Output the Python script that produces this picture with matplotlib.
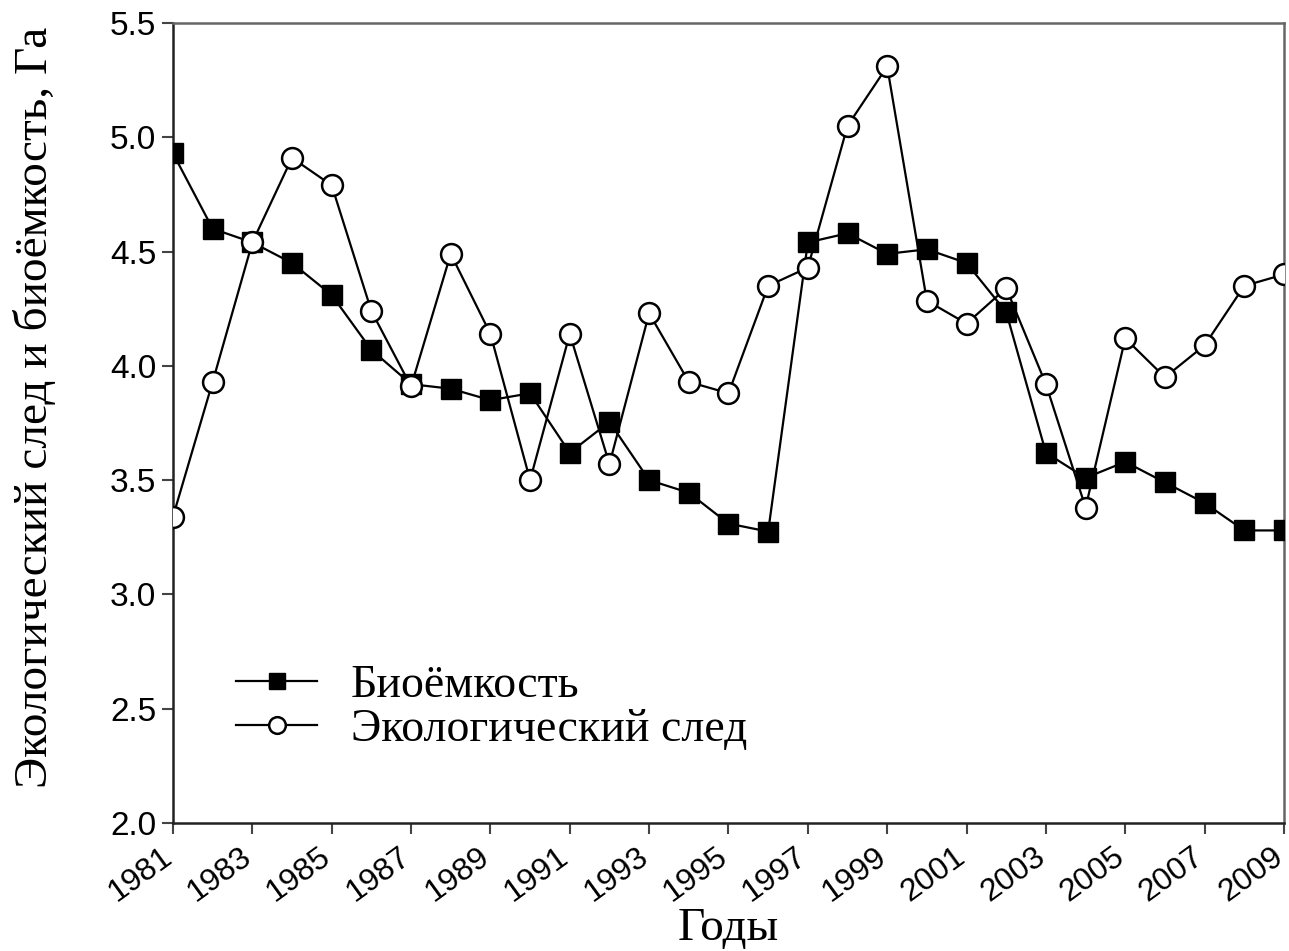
import matplotlib
matplotlib.use("Agg")
import matplotlib.pyplot as plt
import matplotlib.transforms as mtransforms

years = list(range(1981, 2010))
biocapacity = [4.93, 4.60, 4.54, 4.45, 4.31, 4.07, 3.92, 3.90, 3.85, 3.88,
               3.62, 3.755, 3.50, 3.445, 3.31, 3.275, 4.54, 4.58, 4.49, 4.51,
               4.45, 4.235, 3.62, 3.51, 3.58, 3.49, 3.40, 3.28, 3.28]
footprint = [3.34, 3.93, 4.54, 4.91, 4.79, 4.24, 3.91, 4.49, 4.14, 3.50,
             4.14, 3.57, 4.23, 3.93, 3.88, 4.35, 4.43, 5.05, 5.31, 4.285,
             4.185, 4.34, 3.92, 3.38, 4.12, 3.95, 4.09, 4.35, 4.40]
xticks = list(range(1981, 2010, 2))
yticks = [2.0, 2.5, 3.0, 3.5, 4.0, 4.5, 5.0, 5.5]

fig = plt.figure(figsize=(12.89, 9.51), dpi=100)
ax = fig.add_axes([0.1342, 0.1346, 0.8619, 0.8412])

ax.plot(years, biocapacity, color='black', lw=1.6, marker='s', ms=14,
        mfc='black', mec='black', label='Биоёмкость', zorder=3)
ax.plot(years, footprint, color='black', lw=1.6, marker='o', ms=15,
        mfc='white', mec='black', mew=1.8, label='Экологический след', zorder=4)

ax.set_xlim(1981, 2009)
ax.set_ylim(2.0, 5.5)
ax.set_xticks(xticks)
ax.set_yticks(yticks)
ax.set_yticklabels([f"{v:.1f}" for v in yticks], fontfamily='Liberation Sans', fontsize=24)
ax.set_xticklabels([str(y) for y in xticks], fontfamily='Liberation Sans', fontsize=23,
                   rotation=36, ha='right', va='center', rotation_mode='anchor')
ax.tick_params(axis='both', direction='out', length=8, width=1.5, color='#444444', pad=4)
ax.tick_params(axis='x', pad=14)

offset = mtransforms.ScaledTranslation(-4 / 100, 0, fig.dpi_scale_trans)
for lab in ax.get_xticklabels():
    lab.set_transform(lab.get_transform() + offset)

for s in ['left', 'bottom']:
    ax.spines[s].set_color('#222222')
    ax.spines[s].set_linewidth(1.8)
for s in ['top', 'right']:
    ax.spines[s].set_color('#666666')
    ax.spines[s].set_linewidth(1.8)

ax.set_xlabel('Годы', fontfamily='Liberation Serif', fontsize=34, labelpad=0)
ax.set_ylabel('Экологический след и биоёмкость, Га', fontfamily='Liberation Serif',
              fontsize=34, labelpad=38)
ax.yaxis.label.set_y(0.52)

leg = ax.legend(loc='lower left', bbox_to_anchor=(0.02, 0.038), frameon=False,
                prop={'family': 'Liberation Serif', 'size': 33},
                handlelength=1.75, handletextpad=0.75, labelspacing=0.05, markerscale=0.8)

fig.savefig('out.png', dpi=100)
